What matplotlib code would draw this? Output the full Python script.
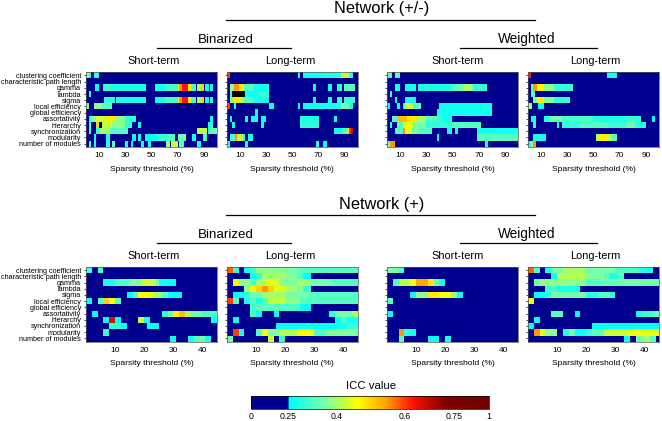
import numpy as np
import matplotlib
matplotlib.use('Agg')
import matplotlib.pyplot as plt
from matplotlib.colors import LinearSegmentedColormap, FuncNorm
from matplotlib.cm import ScalarMappable

plt.rcParams['font.family'] = ['Liberation Sans', 'DejaVu Sans']

measures = ['clustering coefficient', 'characteristic path length', 'gamma', 'lambda',
            'sigma', 'local efficiency', 'global efficiency', 'assortativity',
            'hierarchy', 'synchronization', 'modularity', 'number of modules']

# every row is a list of runs: first column, last column, ICC (None = undefined, black)
top_bin_short = [
    [(1, 2, .38), (3, 4, .27), (7, 10, .3)],
    [],
    [(8, 10, .27), (14, 21, .3), (22, 46, .28), (54, 60, .27), (61, 70, .32), (71, 71, .45), (72, 73, .55),
     (74, 78, .62), (79, 80, .47), (81, 84, .32), (86, 88, .4), (89, 90, .5), (92, 94, .27), (96, 97, .27)],
    [(3, 4, .3)],
    [(15, 22, .3), (24, 46, .28), (54, 60, .27), (61, 70, .32), (71, 71, .45), (72, 73, .55), (74, 78, .62),
     (79, 80, .47), (81, 84, .32), (86, 88, .4), (89, 90, .5), (92, 94, .27), (96, 97, .27)],
    [(1, 2, .38), (7, 12, .38), (13, 20, .33)],
    [],
    [(3, 4, .27), (5, 8, .38), (9, 16, .43), (17, 22, .48), (23, 30, .38), (31, 38, .3), (96, 97, .27)],
    [(3, 4, .32), (9, 10, .5), (11, 12, None), (13, 20, .42), (21, 30, .38), (31, 35, .3), (41, 42, .27), (94, 97, .3)],
    [(3, 4, .33), (9, 11, .3), (12, 18, .4), (19, 22, .33), (23, 32, .33), (86, 92, .42), (94, 95, .27), (96, 100, .35)],
    [(7, 8, .27), (16, 18, .27), (36, 38, .27), (41, 42, .27), (46, 54, .26), (55, 62, .3), (63, 68, .33),
     (71, 76, .35), (82, 84, .27), (90, 92, .33)],
    [(3, 4, .33), (7, 8, .28), (16, 18, .3), (21, 22, .35), (31, 32, .27), (35, 36, .27), (43, 44, .27),
     (48, 50, .27), (62, 64, .38), (66, 70, .42), (72, 75, .33), (86, 88, .27)],
]
top_bin_long = [
    [(1, 2, .6), (55, 56, .27), (59, 74, .27), (75, 87, .29), (88, 93, .42), (94, 96, .3)],
    [],
    [(3, 5, .38), (6, 9, .55), (10, 13, .48), (14, 20, .33), (21, 32, .27), (67, 68, .27), (78, 80, .27),
     (85, 88, .3), (90, 98, .33)],
    [(3, 4, .3), (5, 14, None), (15, 24, .26), (25, 32, .3)],
    [(3, 5, .38), (6, 10, .48), (11, 12, .42), (13, 20, .33), (21, 32, .27), (67, 68, .27), (78, 80, .27),
     (85, 88, .3), (90, 98, .3)],
    [(1, 2, .6), (6, 7, .27), (33, 36, .27), (55, 56, .27), (59, 87, .27), (88, 93, .36), (94, 96, .28)],
    [(22, 24, .27)],
    [(3, 4, .27), (15, 16, .27), (19, 24, .27), (27, 30, .27), (57, 70, .28), (83, 84, .27)],
    [(5, 6, .27), (27, 28, .27), (57, 70, .3)],
    [(83, 88, .27), (89, 92, .33), (93, 93, .45), (94, 95, .6), (96, 96, .65)],
    [(3, 6, .32), (7, 8, .55), (9, 12, .42), (13, 14, .3), (17, 20, .27)],
    [(1, 2, .3), (15, 16, .3), (69, 70, .3), (74, 76, .27)],
]
top_wei_short = [
    [(1, 4, .33), (7, 10, .33)],
    [],
    [(7, 10, .27), (15, 22, .27), (25, 50, .28), (51, 55, .33), (56, 59, .36), (60, 65, .4), (66, 66, .36), (67, 76, .3)],
    [(3, 4, .32)],
    [(7, 8, .27), (15, 22, .27)],
    [(1, 2, .27), (9, 10, .27), (13, 14, .3), (15, 20, .43), (21, 26, .33), (41, 80, .27)],
    [(39, 80, .27)],
    [(5, 8, .33), (9, 15, .52), (16, 23, .48), (24, 30, .4), (31, 38, .33), (39, 42, .3), (43, 50, .27)],
    [(3, 4, .3), (9, 12, .33), (13, 20, .45), (21, 30, .36), (31, 50, .3), (51, 72, .33)],
    [(7, 12, .33), (13, 14, .55), (15, 19, .45), (20, 24, .37), (25, 34, .33), (47, 50, .27), (53, 54, .27), (70, 100, .27)],
    [(39, 40, .27), (70, 100, .33)],
    [(1, 2, .35), (3, 6, .55), (76, 77, .27)],
]
top_wei_long = [
    [(1, 2, .62), (61, 68, .27)],
    [],
    [(3, 4, .33), (5, 7, .55), (8, 12, .47), (13, 20, .38), (21, 34, .3)],
    [(3, 5, .32)],
    [(5, 7, .38), (8, 12, .47), (13, 20, .38), (21, 32, .3)],
    [(1, 3, .4), (9, 12, .26)],
    [],
    [(3, 6, .27), (13, 16, .28), (17, 26, .36), (27, 50, .32), (51, 75, .28), (76, 86, .3), (96, 97, .26)],
    [(5, 6, .3), (23, 24, .26), (27, 40, .3), (41, 60, .33), (61, 75, .31), (76, 82, .35), (83, 90, .29)],
    [],
    [(5, 14, .27), (53, 54, .42), (55, 60, .47), (61, 64, .42), (65, 68, .33)],
    [(1, 2, .3), (3, 4, .38), (5, 6, .55)],
]
bot_bin_short = [
    [(1, 2, .31), (5, 6, .31)],
    [],
    [(7, 10, .28), (11, 15, .33), (16, 19, .37), (20, 24, .43), (25, 25, .35), (26, 28, .27), (29, 31, .26)],
    [],
    [(15, 16, .26), (17, 18, .33), (19, 23, .46), (24, 26, .4), (27, 28, .33), (29, 33, .26)],
    [(1, 2, .26), (5, 6, .33), (7, 8, .5), (9, 10, .46), (11, 12, .33)],
    [],
    [(3, 4, .26), (27, 28, .3), (29, 30, .36), (31, 32, .47), (33, 34, .52), (35, 36, .4), (37, 40, .36), (41, 45, .32)],
    [(7, 8, .26), (9, 10, .65), (11, 12, .26), (19, 20, .42), (21, 22, .27), (44, 45, .26)],
    [(9, 12, .3), (13, 14, .26), (22, 25, .26)],
    [(7, 8, .31)],
    [(30, 31, .26), (36, 37, .27), (38, 39, .33), (40, 41, .36), (42, 43, .27)],
]
bot_bin_long = [
    [(1, 2, .58), (3, 4, .3), (7, 8, .27), (9, 10, .31), (11, 20, .38), (21, 25, .36), (26, 45, .33)],
    [(9, 10, .26), (11, 12, .3), (13, 20, .4), (21, 24, .37), (25, 26, .33), (27, 29, .26)],
    [(3, 4, .45), (5, 8, .38), (9, 10, .33), (11, 13, .4), (14, 18, .44), (19, 24, .37), (25, 28, .4), (29, 36, .36), (37, 45, .33)],
    [(7, 8, .38), (9, 10, .47), (11, 12, .5), (13, 14, .55), (15, 16, .5), (17, 20, .44), (21, 24, .4), (25, 26, .37), (27, 29, .3)],
    [(3, 6, .26), (7, 8, .3), (9, 12, .36), (13, 20, .4), (21, 28, .36), (29, 45, .33)],
    [(1, 2, .6), (3, 4, .33), (7, 8, .27), (9, 10, .33), (11, 12, .27), (13, 14, .33), (15, 20, .42), (21, 25, .38), (26, 45, .33)],
    [(9, 10, .31), (11, 18, .33), (19, 25, .32), (26, 29, .26)],
    [(9, 10, .32), (11, 12, .26), (17, 18, .26), (36, 37, .3), (38, 43, .36), (44, 45, .4)],
    [(3, 4, .26), (38, 39, .26), (40, 41, .33), (42, 45, .27)],
    [(18, 37, .26), (38, 41, .27), (42, 45, .3)],
    [(3, 4, .6), (5, 6, .27), (11, 12, .33), (13, 14, .45), (15, 18, .37), (19, 24, .41), (25, 30, .46), (31, 34, .33), (35, 45, .37)],
    [(1, 2, .36), (15, 16, .43), (19, 20, .3)],
]
bot_wei_short = [
    [(1, 4, .36), (5, 6, .31)],
    [],
    [(3, 4, .33), (5, 8, .41), (9, 10, .46), (11, 14, .54), (15, 16, .48), (17, 18, .37), (19, 20, .27)],
    [],
    [(9, 10, .26), (11, 14, .38), (15, 18, .48), (19, 22, .46), (23, 24, .38), (25, 26, .27)],
    [(1, 2, .33)],
    [],
    [(1, 2, .26)],
    [],
    [],
    [(5, 6, .55), (7, 8, .3), (9, 10, .27)],
    [(5, 6, .33), (15, 18, .26), (21, 22, .27)],
]
bot_wei_long = [
    [(1, 2, .58), (3, 4, .33), (7, 8, .27), (9, 12, .36), (13, 20, .4), (21, 30, .36), (31, 38, .32), (39, 43, .28)],
    [(9, 10, .26), (11, 20, .41), (21, 26, .37), (27, 28, .33), (29, 31, .28), (32, 33, .33)],
    [(3, 4, .36), (5, 20, .38), (21, 25, .33), (26, 32, .35), (33, 45, .36)],
    [(7, 10, .31), (11, 16, .28), (17, 18, .26)],
    [(3, 6, .26), (7, 8, .3), (9, 20, .36), (21, 24, .29), (25, 28, .33), (29, 30, .3)],
    [(1, 2, .45)],
    [],
    [(9, 12, .33), (17, 18, .26), (38, 39, .27), (40, 43, .31), (44, 45, .35)],
    [(3, 4, .26)],
    [(1, 2, .26), (23, 45, .26)],
    [(3, 4, .55), (5, 6, .44), (7, 10, .38), (13, 14, .29), (15, 16, .36), (17, 20, .26), (21, 22, .3), (23, 26, .34), (27, 34, .43), (35, 45, .45)],
    [(34, 35, .26), (38, 40, .36), (41, 42, .4), (43, 44, .33)],
]

icc_ticks = [0, 0.25, 0.4, 0.6, 0.75, 1]
bar_pos = [0, 0.157, 0.362, 0.648, 0.854, 1]
top_ticks = [10, 30, 50, 70, 90]
bot_ticks = [10, 20, 30, 40]

W, H = 662, 421

cmap = LinearSegmentedColormap.from_list('icc', [
    (0, '#00008f'), (0.155, '#00008f'), (0.16, '#00ffff'), (0.32, '#80ffa0'), (0.39, '#c0ff40'),
    (0.45, '#ffff00'), (0.57, '#ffa000'), (0.68, '#ff1000'), (0.82, '#800000'), (1, '#700000')], N=256)
cmap.set_bad('black')
norm = FuncNorm((lambda v: np.interp(v, icc_ticks, bar_pos), lambda p: np.interp(p, bar_pos, icc_ticks)), vmin=0, vmax=1)


def to_matrix(rows, ncols):
    m = np.zeros((len(rows), ncols))
    for i, runs in enumerate(rows):
        for first, last, val in runs:
            m[i, first - 1:last] = np.nan if val is None else val
    return m


def px_axes(x0, y0, x1, y1):
    return fig.add_axes([x0 / W, 1 - y1 / H, (x1 - x0) / W, (y1 - y0) / H])


def txt(x, y, s, size):
    fig.text(x / W, 1 - y / H, s, ha='center', va='center', fontsize=size)


def hline(x0, x1, y):
    fig.add_artist(plt.Line2D([x0 / W, x1 / W], [1 - y / H] * 2, color='black', lw=0.9))


def panel(rows, ncols, ticks, x0, y0, first):
    ax = px_axes(x0, y0, x0 + 131, y0 + 74.5)
    ax.imshow(to_matrix(rows, ncols), cmap=cmap, norm=norm, aspect='auto', interpolation='nearest',
              extent=[0, ncols, len(rows) - 0.5, -0.5])
    ax.set_xticks(ticks)
    ax.set_yticks(range(len(rows)))
    ax.set_yticklabels(measures if first else [])
    ax.tick_params(axis='x', length=0, labelsize=6, pad=4)
    ax.tick_params(axis='y', length=1.5, width=0.5, labelsize=5.25, pad=2)
    ax.set_xlabel('Sparsity threshold (%)', fontsize=6.1, labelpad=4.5)
    for s in ax.spines.values():
        s.set_linewidth(0.5)
        s.set_color('#555555')
    return ax


fig = plt.figure(figsize=(W / 100, H / 100), dpi=100)

panel(top_bin_short, 100, top_ticks, 86, 72.3, True)
panel(top_bin_long, 100, top_ticks, 226.7, 72.3, False)
panel(top_wei_short, 100, top_ticks, 387.3, 72.3, False)
panel(top_wei_long, 100, top_ticks, 528, 72.3, False)
panel(bot_bin_short, 45, bot_ticks, 86, 267, True)
panel(bot_bin_long, 45, bot_ticks, 226.7, 267, False)
panel(bot_wei_short, 45, bot_ticks, 387.3, 267, False)
panel(bot_wei_long, 45, bot_ticks, 528, 267, False)

for dy, title in [(0, 'Network (+/-)'), (195, 'Network (+)')]:
    txt(382, 9 + dy, title, 11.8)
    hline(226, 535, 20 + dy)
    txt(226, 40 + dy, 'Binarized', 9.6)
    hline(157, 291, 48 + dy)
    txt(527, 39 + dy, 'Weighted', 9.8)
    hline(460, 597, 48 + dy)
    for x, s in [(154, 'Short-term'), (290, 'Long-term'), (458, 'Short-term'), (595, 'Long-term')]:
        txt(x, 61 + dy, s, 7.9)

cax = px_axes(250.7, 396, 489, 409)
cb = fig.colorbar(ScalarMappable(norm=norm, cmap=cmap), cax=cax, orientation='horizontal', ticks=icc_ticks)
cb.set_ticklabels(['0', '0.25', '0.4', '0.6', '0.75', '1'])
cb.ax.tick_params(length=0, labelsize=6.3, pad=2)
cb.ax.minorticks_off()
cb.outline.set_linewidth(0.5)
txt(371, 386, 'ICC value', 8.2)

plt.savefig('out.png', dpi=100)
